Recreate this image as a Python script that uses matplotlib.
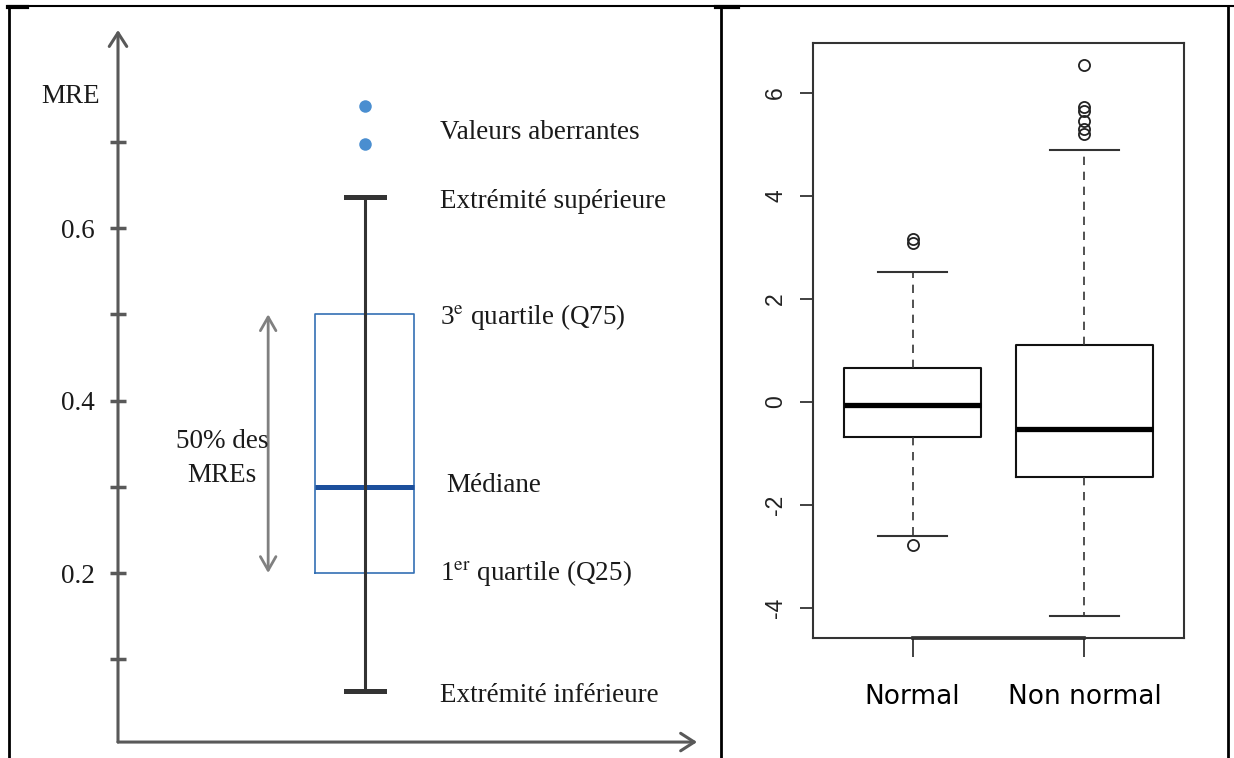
import matplotlib
matplotlib.use('Agg')
import matplotlib.pyplot as plt
import numpy as np

plt.rcParams['font.family'] = ['Liberation Serif', 'DejaVu Serif']
plt.rcParams['mathtext.fontset'] = 'stix'

# left panel: schematic boxplot of the MRE
mre_q1, mre_med, mre_q3 = 0.2, 0.3, 0.5
mre_lo, mre_hi = 0.063, 0.636
mre_outliers = [0.697, 0.741]
mre_ticks = [0.1, 0.2, 0.3, 0.4, 0.5, 0.6, 0.7]
mre_ticklabels = ['', '0.2', '', '0.4', '', '0.6', '']
notes = ['Valeurs aberrantes', 'Extrémité supérieure',
         '3$^{\\mathrm{e}}$ quartile (Q75)', 'Médiane',
         '1$^{\\mathrm{er}}$ quartile (Q25)', 'Extrémité inférieure']

# right panel: R style boxplots
groups = ['Normal', 'Non normal']
q1 = [-0.68, -1.46]
med = [-0.05, -0.52]
q3 = [0.66, 1.11]
whislo = [-2.6, -4.15]
whishi = [2.53, 4.9]
fliers = [[3.08, 3.17, -2.78], [5.2, 5.3, 5.45, 5.65, 5.72, 6.55]]
yticks_r = [-4, -2, 0, 2, 4, 6]

fig = plt.figure(figsize=(12.34, 7.58), dpi=100)

# table borders
bg = fig.add_axes([0, 0, 1, 1], zorder=-1)
bg.set_xlim(0, 1234)
bg.set_ylim(758, 0)
bg.axis('off')
bg.plot([8, 1234], [6, 6], color='black', lw=1.5)
bg.plot([8, 27], [6.5, 6.5], color='black', lw=3)
bg.plot([716, 738], [6.5, 6.5], color='black', lw=3)
for xb in [8.5, 721, 1228]:
    bg.plot([xb, xb], [6, 758], color='black', lw=2)

# ---- left panel
axis_col = '#595959'
txt_col = '#1a1a1a'
ax = fig.add_axes([118/1234, 12.5/758, 582/1234, 715.5/758])
ax.set_xlim(0, 1)
ax.set_ylim(0, 0.8296)
for s in ax.spines.values():
    s.set_visible(False)
ax.set_xticks([])
ax.set_yticks(mre_ticks)
ax.set_yticklabels(mre_ticklabels)
ax.tick_params(axis='y', direction='inout', length=11, width=2.5, color=axis_col,
               pad=11, labelsize=19.5, labelcolor=txt_col)
ax.patch.set_alpha(0)

arrow = dict(arrowstyle='->,head_length=0.7,head_width=0.45', color=axis_col,
             lw=2.2, mutation_scale=14, shrinkA=0, shrinkB=0)
ax.annotate('', xy=(0, 1), xycoords='axes fraction', xytext=(0, 0.004),
            textcoords=('axes fraction', 'data'), arrowprops=arrow, annotation_clip=False)
ax.annotate('', xy=(0.995, 0.004), xycoords=('axes fraction', 'data'), xytext=(0, 0.004),
            textcoords=('axes fraction', 'data'), arrowprops=arrow, annotation_clip=False)
ax.annotate('MRE', xy=(0, 0.752), xycoords=('axes fraction', 'data'), xytext=(-13, 0),
            textcoords='offset points', ha='right', va='center', fontsize=19.5, color=txt_col)

xc = 0.424
stats_left = [dict(med=mre_med, q1=mre_q1, q3=mre_q3, whislo=mre_lo, whishi=mre_hi,
                   fliers=mre_outliers)]
ax.bxp(stats_left, positions=[xc], widths=[0.170], capwidths=[0.065], manage_ticks=False,
       boxprops=dict(color='#3470b4', linewidth=1.2),
       medianprops=dict(color='#1c4f9c', linewidth=3.6),
       whiskerprops=dict(color='#333333', linewidth=2.2),
       capprops=dict(color='#333333', linewidth=3.6),
       flierprops=dict(marker='o', markerfacecolor='#4a8ed0', markeredgecolor='none',
                       markersize=9))
ax.vlines(xc, mre_q1, mre_q3, color='#333333', lw=2.2, zorder=5)

ax.annotate('', xy=(0.258, mre_q3), xytext=(0.258, mre_q1),
            arrowprops=dict(arrowstyle='<->,head_length=0.7,head_width=0.4', color='#808080',
                            lw=2, mutation_scale=14, shrinkA=0, shrinkB=0))
ax.text(0.179, 0.333, '50% des\nMREs', ha='center', va='center', fontsize=19.5,
        color=txt_col, linespacing=1.5)

note_y = [np.mean(mre_outliers), mre_hi, mre_q3, mre_med, mre_q1, mre_lo]
note_x = [0.553, 0.553, 0.553, 0.564, 0.553, 0.553]
note_dy = [-5, -3, -2, 1, 0, -3]
for nx, ny, dy, note in zip(note_x, note_y, note_dy, notes):
    ax.annotate(note, xy=(nx, ny), xytext=(0, dy), textcoords='offset points',
                ha='left', va='center', fontsize=19.5, color=txt_col)

# ---- right panel
ax2 = fig.add_axes([813/1234, 120/758, 371/1234, 595/758])
stats = [dict(med=m, q1=a, q3=b, whislo=lo, whishi=hi, fliers=f, label=g)
         for g, a, m, b, lo, hi, f in zip(groups, q1, med, q3, whislo, whishi, fliers)]
ax2.bxp(stats, positions=[1, 2], widths=0.8,
        boxprops=dict(color='#111111', linewidth=1.5),
        medianprops=dict(color='black', linewidth=3.8),
        whiskerprops=dict(color='#333333', linewidth=1.2, linestyle=(0, (5, 4))),
        capprops=dict(color='#333333', linewidth=1.5),
        flierprops=dict(marker='o', markerfacecolor='none', markeredgecolor='#222222',
                        markersize=8, markeredgewidth=1.3))
ax2.set_xlim(0.42, 2.58)
ax2.set_ylim(-4.58, 6.97)
ax2.set_yticks(yticks_r)
ax2.set_yticklabels([str(v) for v in yticks_r], rotation=90, va='center',
                    family=['Liberation Sans', 'DejaVu Sans'])
ax2.set_xticks([1, 2])
ax2.set_xticklabels(groups, family='DejaVu Sans')
ax2.tick_params(axis='y', length=9.5, width=1.3, color='#333333', pad=9, labelsize=16.5,
                labelcolor='#222222')
ax2.tick_params(axis='x', length=14, width=1.3, color='#333333', pad=19, labelsize=19,
                labelcolor='black')
for s in ax2.spines.values():
    s.set_linewidth(1.5)
    s.set_color('#333333')
ax2.plot([1, 2], [-4.58, -4.58], color='#222222', lw=2.6, clip_on=False)

fig.savefig('out.png', dpi=100)
